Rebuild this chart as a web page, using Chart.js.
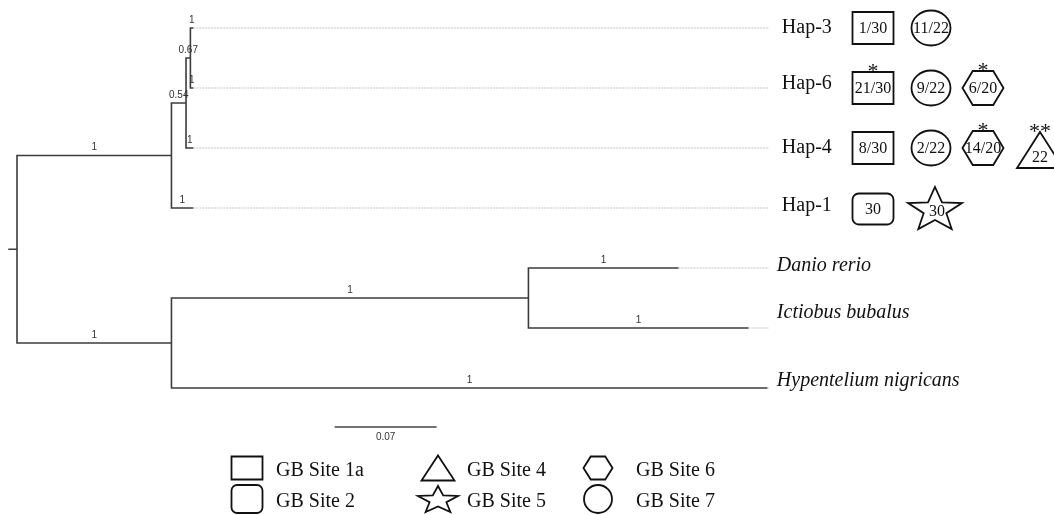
<!DOCTYPE html>
<html>
<head>
<meta charset="utf-8">
<script src="https://cdn.jsdelivr.net/npm/chart.js@4.4.1/dist/chart.umd.min.js"></script>
<style>
    html, body { margin: 0; padding: 0; background: #fff; }
    #wrap { width: 1054px; height: 515px; position: relative; }
</style>
</head>
<body>
<div id="wrap"><canvas id="albero"></canvas></div>
<script>
// nodi dell'albero: genitore, distanza dalla radice (sostituzioni/sito), supporto
const nodeLabels  = ['', '', '', '', 'Hap-3', 'Hap-6', 'Hap-4', 'Hap-1', '', '', 'Danio rerio', 'Ictiobus bubalus', 'Hypentelium nigricans'];
const nodeParents = [-1, 0, 1, 2, 3, 3, 2, 1, 0, 8, 9, 9, 8];
const nodeDepths  = [0, 0.106, 0.116, 0.119, 0.121, 0.121, 0.121, 0.121, 0.106, 0.351, 0.454, 0.502, 0.515];
const nodeSupport = ['', '1', '0.54', '0.67', '1', '1', '1', '1', '1', '1', '1', '1', '1'];
const italicTips  = ['Danio rerio', 'Ictiobus bubalus', 'Hypentelium nigricans'];
const alignDepth  = 0.516;
const scaleBarValue = 0.07;

// aplotipi e frequenze per sito
const haplotypes = ['Hap-3', 'Hap-6', 'Hap-4', 'Hap-1'];
const site1a = ['1/30', '21/30', '8/30', ''];
const site2  = ['', '', '', '30'];
const site4  = ['', '', '22', ''];
const site5  = ['', '', '', '30'];
const site6  = ['', '6/20', '14/20', ''];
const site7  = ['11/22', '9/22', '2/22', ''];
const site1aStars = [0, 1, 0, 0];
const site4Stars  = [0, 0, 2, 0];
const site6Stars  = [0, 1, 1, 0];
const legendLabels = ['GB Site 1a', 'GB Site 2', 'GB Site 4', 'GB Site 5', 'GB Site 6', 'GB Site 7'];
const legendShapes = ['rect', 'rectRounded', 'triangle', 'star', 'hexagon', 'circle'];

// posizione verticale: foglie in ordine, nodi interni = media dei figli
const nodeY = new Array(nodeLabels.length).fill(null);
let tipCount = 0;
function assignY(i) {
    const kids = nodeParents.map((p, k) => p === i ? k : -1).filter(k => k >= 0);
    if (kids.length === 0) { nodeY[i] = tipCount++; return nodeY[i]; }
    const ys = kids.map(assignY);
    nodeY[i] = (ys[0] + ys[ys.length - 1]) / 2;
    return nodeY[i];
}
assignY(0);

const branchPts = [{x: -0.006, y: nodeY[0]}, {x: 0, y: nodeY[0]}, {x: null, y: null}];
const alignPts = [];
nodeParents.forEach((p, i) => {
    if (p < 0) return;
    branchPts.push({x: nodeDepths[p], y: nodeY[p]}, {x: nodeDepths[p], y: nodeY[i]},
                   {x: nodeDepths[i], y: nodeY[i]}, {x: null, y: null});
    if (nodeLabels[i] && nodeDepths[i] < alignDepth) {
        alignPts.push({x: nodeDepths[i], y: nodeY[i]}, {x: alignDepth, y: nodeY[i]}, {x: null, y: null});
    }
});
const scaleBarPts = [{x: 0.218, y: 6.65}, {x: 0.218 + scaleBarValue, y: 6.65}];

function drawShape(ctx, kind, cx, cy, w, h) {
    ctx.beginPath();
    if (kind === 'rect') {
        ctx.rect(cx - w / 2, cy - h / 2, w, h);
    } else if (kind === 'rectRounded') {
        ctx.roundRect(cx - w / 2, cy - h / 2, w, h, Math.min(w, h) * 0.2);
    } else if (kind === 'circle') {
        ctx.ellipse(cx, cy, w / 2, h / 2, 0, 0, Math.PI * 2);
    } else if (kind === 'hexagon') {
        ctx.moveTo(cx - w / 2, cy);
        ctx.lineTo(cx - w / 4, cy - h / 2);
        ctx.lineTo(cx + w / 4, cy - h / 2);
        ctx.lineTo(cx + w / 2, cy);
        ctx.lineTo(cx + w / 4, cy + h / 2);
        ctx.lineTo(cx - w / 4, cy + h / 2);
        ctx.closePath();
    } else if (kind === 'triangle') {
        ctx.moveTo(cx, cy - h / 2);
        ctx.lineTo(cx + w / 2, cy + h / 2);
        ctx.lineTo(cx - w / 2, cy + h / 2);
        ctx.closePath();
    } else if (kind === 'star') {
        const R = h / 1.809, r = R * 0.42, sx = w / (1.902 * R);
        const oy = cy - h / 2 + R;
        for (let k = 0; k < 10; k++) {
            const a = -Math.PI / 2 + k * Math.PI / 5;
            const rr = k % 2 ? r : R;
            const px = cx + Math.cos(a) * rr * sx, py = oy + Math.sin(a) * rr;
            k ? ctx.lineTo(px, py) : ctx.moveTo(px, py);
        }
        ctx.closePath();
    }
    ctx.stroke();
}

const annotazioni = {
    id: 'annotazioni',
    afterDatasetsDraw(chart) {
        const {ctx, scales: {x, y}} = chart;
        ctx.save();
        ctx.fillStyle = '#333';
        ctx.textAlign = 'center';
        ctx.textBaseline = 'bottom';
        ctx.font = '10px "Liberation Sans", Arial, sans-serif';
        nodeParents.forEach((p, i) => {
            if (p < 0 || !nodeSupport[i]) return;
            const mx = (x.getPixelForValue(nodeDepths[p]) + x.getPixelForValue(nodeDepths[i])) / 2;
            ctx.fillText(nodeSupport[i], mx, y.getPixelForValue(nodeY[i]) - 3);
        });
        ctx.fillText(scaleBarValue.toFixed(2), x.getPixelForValue(0.218 + scaleBarValue / 2), y.getPixelForValue(6.65) + 15);

        // etichette delle foglie
        const ax = x.getPixelForValue(alignDepth);
        const tipShift = {'Ictiobus bubalus': -15, 'Hypentelium nigricans': -7, 'Danio rerio': -2, 'Hap-6': -4, 'Hap-1': -2};
        ctx.textAlign = 'left';
        ctx.textBaseline = 'middle';
        ctx.fillStyle = '#111';
        nodeLabels.forEach((lab, i) => {
            if (!lab) return;
            const it = italicTips.includes(lab);
            ctx.font = (it ? 'italic ' : '') + '20px "Liberation Serif", "Times New Roman", serif';
            ctx.fillText(lab, ax + (it ? 8 : 13), y.getPixelForValue(nodeY[i]) + (tipShift[lab] || 0));
        });

        // forme dei siti accanto agli aplotipi
        ctx.strokeStyle = '#111';
        ctx.lineWidth = 1.8;
        ctx.textAlign = 'center';
        const cols = [
            {vals: site1a, stars: site1aStars, kind: 'rect', cx: 873, w: 41, h: 32, dy: 0},
            {vals: site2, stars: null, kind: 'rectRounded', cx: 873, w: 41, h: 31, dy: 1},
            {vals: site7, stars: null, kind: 'circle', cx: 931, w: 39, h: 35, dy: 0},
            {vals: site5, stars: null, kind: 'star', cx: 935, w: 54, h: 42, dy: 0},
            {vals: site6, stars: site6Stars, kind: 'hexagon', cx: 983, w: 41, h: 34, dy: 0},
            {vals: site4, stars: site4Stars, kind: 'triangle', cx: 1040, w: 46, h: 36, dy: 2}
        ];
        cols.forEach(c => {
            c.vals.forEach((v, r) => {
                if (!v) return;
                const tip = nodeLabels.indexOf(haplotypes[r]);
                const cy = y.getPixelForValue(nodeY[tip]) + c.dy;
                drawShape(ctx, c.kind, c.cx, cy, c.w, c.h);
                ctx.textBaseline = 'middle';
                ctx.font = '16px "Liberation Serif", serif';
                ctx.fillText(v, c.cx + (c.kind === 'star' ? 2 : 0), cy + (c.kind === 'triangle' ? 8 : (c.kind === 'star' ? 4 : 1)));
                if (c.stars && c.stars[r]) {
                    ctx.textBaseline = 'alphabetic';
                    ctx.font = '22px "Liberation Serif", serif';
                    ctx.fillText('*'.repeat(c.stars[r]), c.cx, cy - c.h / 2 + 6);
                }
            });
        });

        // legenda
        const lx = [247, 438, 598], tx = [276, 467, 636], ly = [468, 499];
        const lsize = {rect: [31, 23], rectRounded: [31, 28], triangle: [33, 25], star: [40, 26], hexagon: [29, 23], circle: [28, 28]};
        ctx.textAlign = 'left';
        ctx.textBaseline = 'middle';
        ctx.font = '20px "Liberation Serif", "Times New Roman", serif';
        legendLabels.forEach((lab, k) => {
            const col = Math.floor(k / 2), row = k % 2;
            const s = lsize[legendShapes[k]];
            drawShape(ctx, legendShapes[k], lx[col], ly[row], s[0], s[1]);
            ctx.fillText(lab, tx[col], ly[row] + 3);
        });
        ctx.restore();
    }
};

new Chart(document.getElementById('albero'), {
    type: 'scatter',
    data: {
        datasets: [
            { label: 'rami', data: branchPts, showLine: true, borderColor: '#3c3c3c', borderWidth: 1.6, pointRadius: 0, spanGaps: false },
            { label: 'allineamento', data: alignPts, showLine: true, borderColor: '#c4c4c4', borderWidth: 1.2, borderDash: [2, 1], pointRadius: 0, spanGaps: false },
            { label: 'scala', data: scaleBarPts, showLine: true, borderColor: '#444', borderWidth: 1.4, pointRadius: 0 }
        ]
    },
    options: {
        responsive: true,
        maintainAspectRatio: false,
        animation: false,
        layout: { padding: 0 },
        plugins: { legend: { display: false }, tooltip: { enabled: false } },
        scales: {
            x: { type: 'linear', display: false, min: -0.01167, max: 0.7117 },
            y: { type: 'linear', display: false, reverse: true, min: -0.4667, max: 8.1167 }
        }
    },
    plugins: [annotazioni]
});
</script>
</body>
</html>
